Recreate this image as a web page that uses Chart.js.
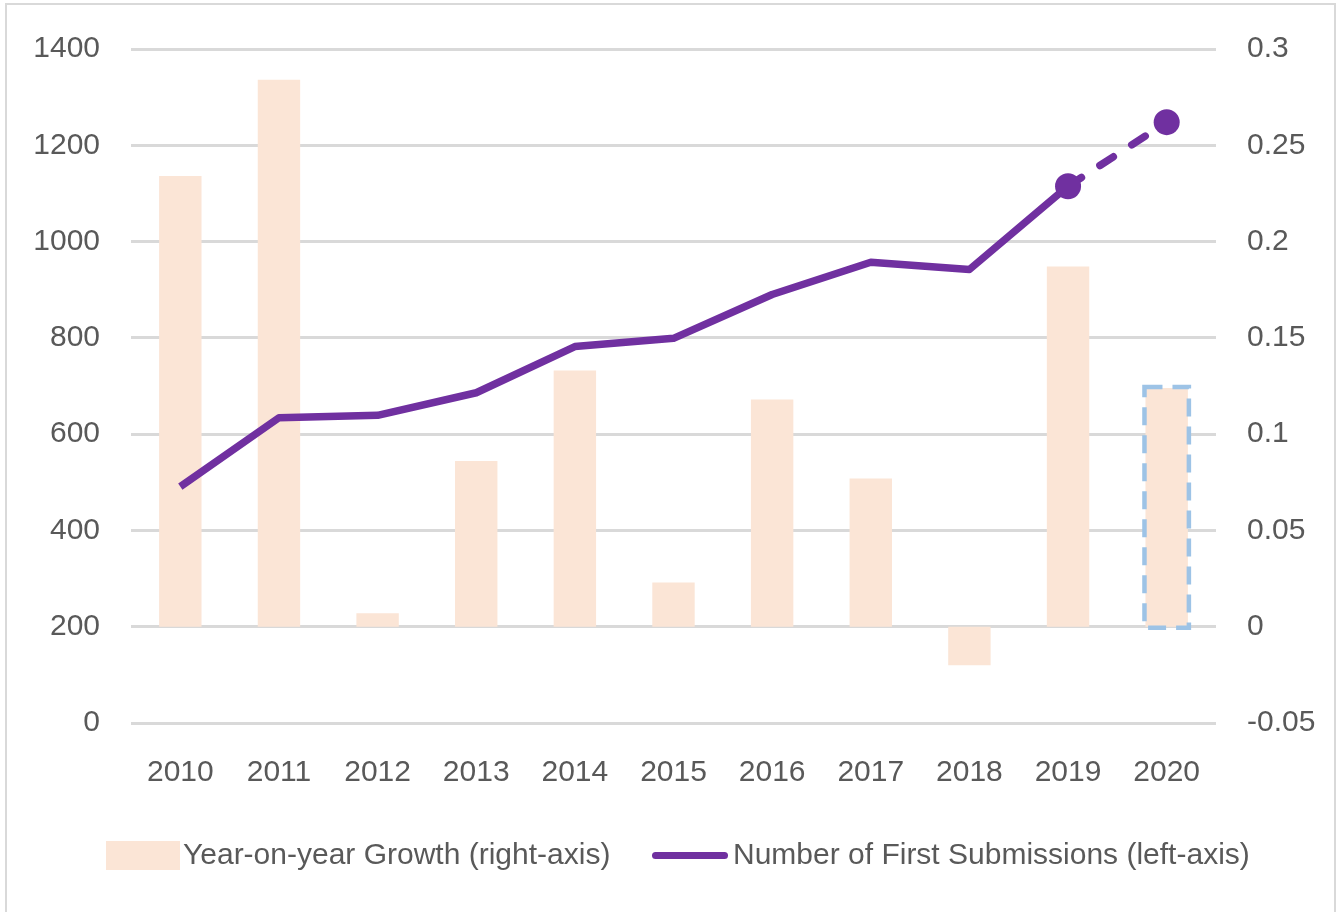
<!DOCTYPE html>
<html>
<head>
<meta charset="utf-8">
<script src="https://cdn.jsdelivr.net/npm/chart.js@4.4.1/dist/chart.umd.min.js"></script>
<style>
  html, body { margin:0; padding:0; background:#fff; }
  body { width:1343px; height:912px; position:relative; overflow:hidden; }
  .frame { position:absolute; left:5px; top:3px; width:1331px; height:930px; border:2px solid #d9d9d9; box-sizing:border-box; }
  #wrap { position:absolute; left:0; top:0; width:1343px; height:912px; }
  .legend { position:absolute; left:0; top:0; font-family:'Liberation Sans',Arial,sans-serif; font-size:30px; color:#595959; }
  .legend > * { position:absolute; white-space:nowrap; }
  .legend .bar { left:106px; top:841px; width:74px; height:29px; background:#fbe5d6; }
  .legend .t1 { left:183px; top:837px; }
  .legend .line { left:652px; top:852px; width:76px; height:7px; background:#7030a0; border-radius:4px; }
  .legend .t2 { left:733px; top:837px; }
</style>
</head>
<body>
<div class="frame"></div>
<div id="wrap"><canvas id="chart" width="1343" height="912"></canvas></div>
<div class="legend">
  <span class="bar"></span><span class="t1">Year-on-year Growth (right-axis)</span>
  <span class="line"></span><span class="t2">Number of First Submissions (left-axis)</span>
</div>
<script>
const years = ['2010','2011','2012','2013','2014','2015','2016','2017','2018','2019','2020'];
const growth = [0.234, 0.284, 0.007, 0.086, 0.133, 0.023, 0.118, 0.077, -0.020, 0.187, 0.124];
const submissions = [491, 634, 639, 686, 782, 799, 890, 957, 942, 1115, 1248];
const markerRadius = [0,0,0,0,0,0,0,0,0,13,13];

const FONT = "'Liberation Sans',Arial,sans-serif";
const GREY = '#595959';

// dashed outline around the forecast bar
const forecastBox = {
  id:'forecastBox',
  afterDatasetsDraw(chart){
    const meta = chart.getDatasetMeta(0);
    const bar = meta.data[meta.data.length-1];
    if(!bar) return;
    const {x, y, base, width} = bar.getProps(['x','y','base','width'], true);
    const c = chart.ctx;
    c.save();
    c.strokeStyle = '#9dc3e6';
    c.lineWidth = 4.5;
    c.setLineDash([18,10]);
    c.strokeRect(x - width/2 - 1, y - 1, width + 2, base - y + 2);
    c.restore();
  }
};

new Chart(document.getElementById('chart'), {
  data:{
    labels: years,
    datasets:[
      {type:'bar', label:'Year-on-year Growth (right-axis)', data:growth, yAxisID:'y1',
       backgroundColor:'#fbe5d6', barPercentage:0.43, categoryPercentage:1, order:2},
      {type:'line', label:'Number of First Submissions (left-axis)', data:submissions, yAxisID:'y',
       borderColor:'#7030a0', backgroundColor:'#7030a0', borderWidth:7.5, tension:0,
       pointRadius:markerRadius, pointHoverRadius:markerRadius, pointBorderWidth:0,
       borderJoinStyle:'round',
       segment:{
         borderDash: ctx => ctx.p0DataIndex === 9 ? [16,22] : undefined,
         borderCapStyle: ctx => ctx.p0DataIndex === 9 ? 'round' : 'butt'
       },
       order:1}
    ]
  },
  options:{
    responsive:false,
    animation:false,
    layout:{padding:{left:0, right:0, top:39, bottom:109}},
    plugins:{legend:{display:false}, tooltip:{enabled:false}},
    scales:{
      x:{
        grid:{display:false}, border:{display:false},
        ticks:{color:GREY, font:{family:FONT, size:30}, padding:24},
        afterFit: s => { s.height = 80; }
      },
      y:{
        position:'left', min:0, max:1400,
        ticks:{stepSize:200, color:GREY, font:{family:FONT, size:30}, padding:31,
               callback: v => String(v)},
        grid:{color:'#d9d9d9', lineWidth:3, drawTicks:false},
        border:{display:false},
        afterFit: s => { s.width = 131; }
      },
      y1:{
        position:'right', min:-0.05, max:0.3,
        ticks:{stepSize:0.05, color:GREY, font:{family:FONT, size:30}, padding:23,
               callback: v => String(+v.toFixed(2))},
        grid:{display:false},
        border:{display:false},
        afterFit: s => { s.width = 127; }
      }
    }
  },
  plugins:[forecastBox]
});
</script>
</body>
</html>
